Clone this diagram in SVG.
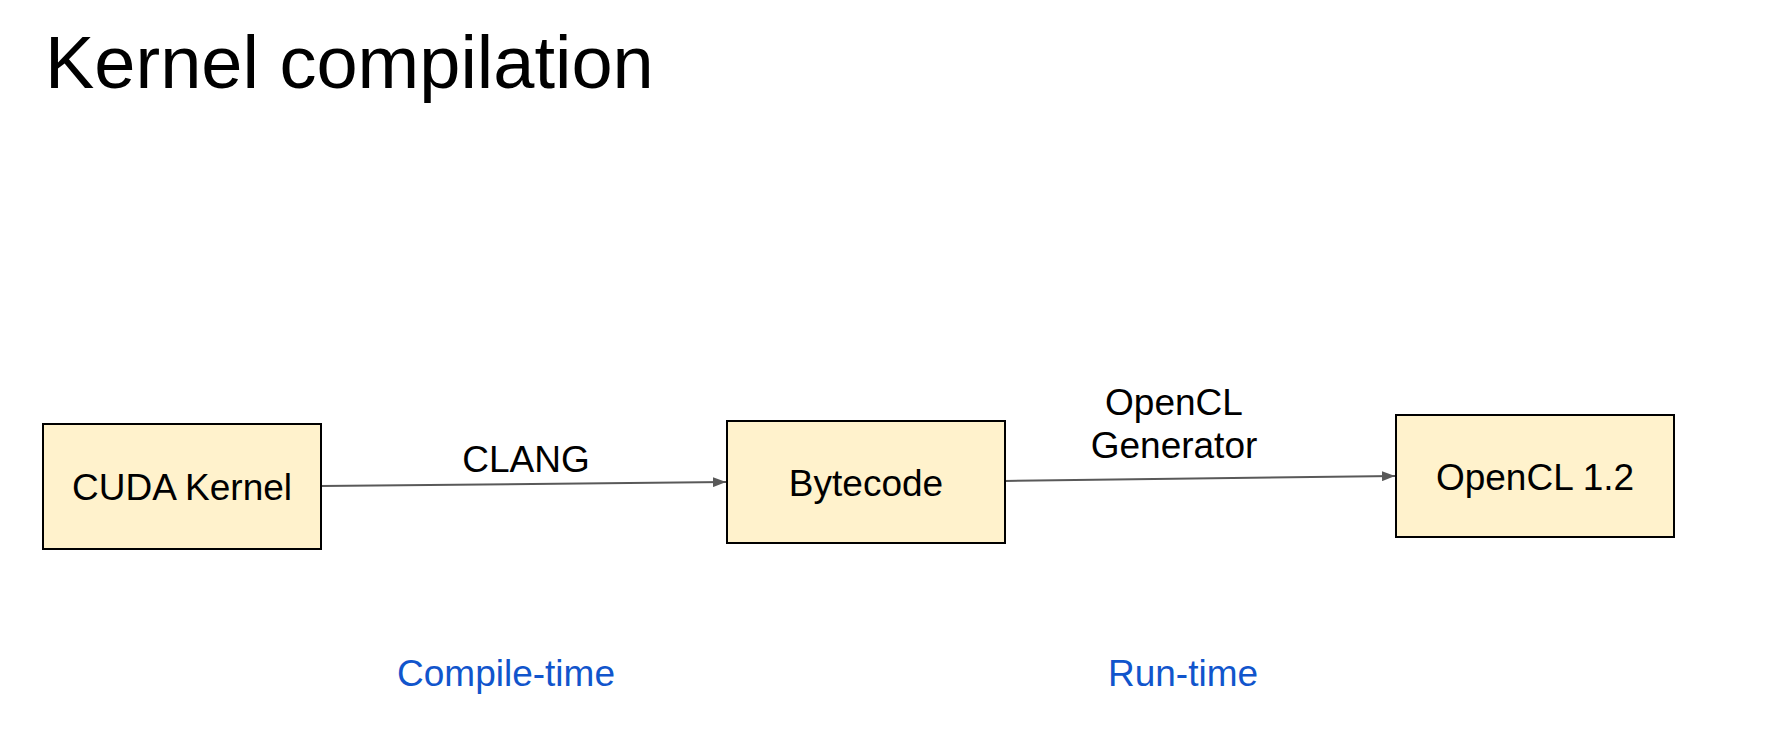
<svg xmlns="http://www.w3.org/2000/svg" width="1766" height="756" viewBox="0 0 1766 756">
  <style>
    .box { fill: #fff2cc; stroke: #000000; stroke-width: 2; }
    .lbl { font-family: "Liberation Sans", Arial, sans-serif; font-size: 37px; fill: #000000; text-anchor: middle; }
    .note { font-family: "Liberation Sans", Arial, sans-serif; font-size: 37px; fill: #1155cc; text-anchor: middle; }
    .title { font-family: "Liberation Sans", Arial, sans-serif; font-size: 74px; fill: #000000; }
    .conn { stroke: #595959; stroke-width: 2; fill: none; }
  </style>
  <defs>
    <marker id="arrow" markerUnits="userSpaceOnUse" markerWidth="14" markerHeight="10" refX="13" refY="5" orient="auto">
      <path d="M0,0 L13,5 L0,10 z" fill="#595959"/>
    </marker>
  </defs>
  <rect width="1766" height="756" fill="#ffffff"/>
  <text class="title" x="45" y="88">Kernel compilation</text>

  <g id="connectors">
    <line class="conn" x1="321" y1="486" x2="726" y2="482" marker-end="url(#arrow)"/>
    <line class="conn" x1="1005" y1="481" x2="1395" y2="476" marker-end="url(#arrow)"/>
  </g>

  <g id="cuda-kernel">
    <rect class="box" x="43" y="424" width="278" height="125"/>
    <text class="lbl" x="182" y="500">CUDA Kernel</text>
  </g>
  <g id="bytecode">
    <rect class="box" x="727" y="421" width="278" height="122"/>
    <text class="lbl" x="866" y="496">Bytecode</text>
  </g>
  <g id="opencl12">
    <rect class="box" x="1396" y="415" width="278" height="122"/>
    <text class="lbl" x="1535" y="490">OpenCL 1.2</text>
  </g>

  <g id="edge-labels">
    <text class="lbl" x="526" y="472">CLANG</text>
    <text class="lbl" x="1174" y="415">OpenCL</text>
    <text class="lbl" x="1174" y="458">Generator</text>
  </g>

  <g id="phase-labels">
    <text class="note" x="506" y="686">Compile-time</text>
    <text class="note" x="1183" y="686">Run-time</text>
  </g>
</svg>
